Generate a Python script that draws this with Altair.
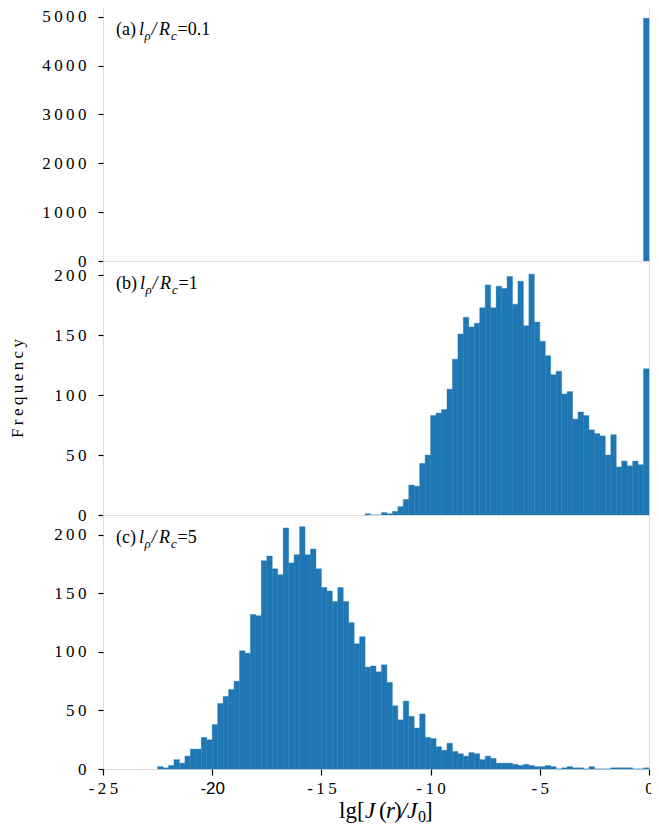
import altair as alt
import numpy as np
import pandas as pd

BIN = 0.25

# panel (a)  l_rho/R_c = 0.1
a_start = -0.25
a_counts = [4970]

# panel (b)  l_rho/R_c = 1   (bins of 0.25 starting at b_start)
b_start = -13.0
b_counts = [1, 0, 0, 2, 1, 3, 7, 13, 25, 24,
            43, 50, 83, 85, 88, 105, 130, 151, 165, 157,
            160, 173, 192, 173, 191, 189, 199, 176, 195, 158,
            201, 161, 145, 133, 117, 120, 101, 103, 80, 86,
            83, 71, 68, 66, 50, 67, 40, 45, 41, 45,
            42, 122]

# panel (c)  l_rho/R_c = 5
c_start = -22.5
c_counts = [2, 1, 3, 8, 5, 11, 17, 17, 27, 25,
            38, 56, 62, 68, 75, 101, 99, 132, 131, 178,
            182, 171, 166, 206, 176, 183, 207, 183, 188, 171,
            155, 152, 143, 155, 143, 125, 107, 113, 87, 88,
            83, 89, 74, 54, 42, 58, 45, 35, 47, 27,
            26, 19, 16, 22, 15, 13, 11, 14, 13, 8,
            11, 9, 5, 5, 5, 4, 3, 4, 3,
            2, 2, 3, 2, 0, 1, 2, 1, 1, 0, 2, 0, 0, 0, 1, 1, 1, 1, 0, 0, 1]

x_ticks = [-25, -20, -15, -10, -5, 0]
a_yticks = [0, 1000, 2000, 3000, 4000, 5000]
bc_yticks = [0, 50, 100, 150, 200]

SERIF = "Liberation Serif"
BLUE = "#1f77b4"
W, H = 546, 254
THIN = "\u2009"


def frame(start, counts):
    x = start + BIN * np.arange(len(counts))
    return pd.DataFrame({"x": x, "x2": x + BIN, "count": counts})


def piece(txt, px, py, size=18, style="normal"):
    return alt.Chart(pd.DataFrame({"t": [txt]})).mark_text(
        align="left", baseline="alphabetic", font=SERIF, fontSize=size,
        fontStyle=style, color="black"
    ).encode(x=alt.value(px), y=alt.value(py), text="t:N")


def panel_label(letter, value, shift=0.0):
    b = 27.5
    s = b + 5.5
    return [
        piece(f"({letter})", 13, b),
        piece("l", 37 + shift, b, style="italic"),
        piece("ρ", 42.5 + shift, s, size=13, style="italic"),
        piece("/", 49.5 + shift, b, style="italic"),
        piece("R", 57 + shift, b, style="italic"),
        piece("c", 69 + shift, s, size=13, style="italic"),
        piece("=" + value, 75.5 + shift, b),
    ]


ylab_expr = "join(split(toString(datum.value), ''), '" + THIN + "')"


def y_axis(values, title=None):
    kw = dict(values=values, labelExpr=ylab_expr, labelFont=SERIF,
              labelFontSize=17, labelColor="black", labelPadding=12,
              tickSize=5, tickColor="black", tickWidth=1.2, domain=False,
              grid=False, labelFlush=False)
    if title is None:
        kw["title"] = None
    else:
        kw.update(title=title, titleFont=SERIF, titleFontSize=17,
                  titleFontWeight="normal", titleColor="black",
                  titlePadding=27)
    return alt.Axis(**kw)


def bars(df, ymax, yaxis, xaxis):
    return alt.Chart(df).mark_bar(color=BLUE, stroke=BLUE, strokeWidth=0.4).encode(
        x=alt.X("x:Q", scale=alt.Scale(domain=[-25, 0], nice=False, zero=False),
                axis=xaxis),
        x2="x2:Q",
        y=alt.Y("count:Q", scale=alt.Scale(domain=[0, ymax], nice=False),
                axis=yaxis),
        y2=alt.datum(0),
    )


xaxis_c = alt.Axis(
    values=x_ticks, title=None, grid=False, domain=False, labelFlush=False,
    labelExpr="datum.value == -20 ? '-20' : join(split(toString(datum.value), ''), '" + THIN + "')",
    labelFont={"condition": {"test": "datum.value == -20", "value": "Liberation Sans"},
               "value": SERIF},
    labelFontSize=17, labelColor="black", labelPadding=5,
    tickSize=6, tickColor="black", tickWidth=1.2,
)

pa = alt.layer(
    bars(frame(a_start, a_counts), 5200, y_axis(a_yticks), None),
    *panel_label("a", "0.1", -1),
).properties(width=W, height=H)

pb = alt.layer(
    bars(frame(b_start, b_counts), 212,
         y_axis(bc_yticks, THIN.join("Frequency")), None),
    *panel_label("b", "1"),
).properties(width=W, height=H)

tb = H + 49
xtitle = [
    piece("lg[", 236, tb, size=23),
    piece("J", 262, tb, size=23, style="italic"),
    piece("(", 276, tb, size=23),
    piece("r", 283, tb, size=23, style="italic"),
    piece(")", 291, tb, size=23),
    piece("/", 297.5, tb, size=23, style="italic"),
    piece("J", 304, tb, size=23, style="italic"),
    piece("0", 315, tb + 4, size=16),
    piece("]", 322, tb, size=23),
]

pc = alt.layer(
    bars(frame(c_start, c_counts), 217, y_axis(bc_yticks), xaxis_c),
    *panel_label("c", "5", -1),
    *xtitle,
).properties(width=W, height=H)

chart = alt.vconcat(
    pa, pb, pc, spacing=0, bounds="flush",
    padding={"left": 0, "top": -2, "right": -3, "bottom": -3},
).configure_view(
    stroke="black", strokeWidth=1.3
).configure(background="white")

chart.save("out.html", embed_options={"renderer": "svg", "actions": False})
